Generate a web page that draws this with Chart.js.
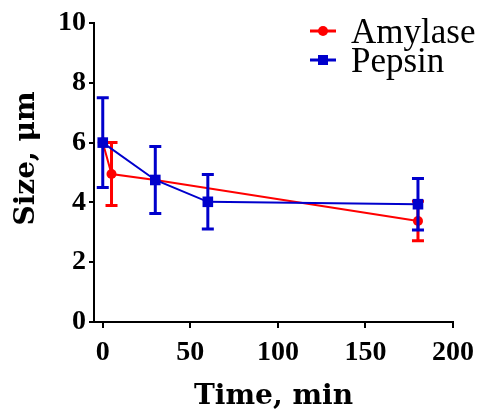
<!DOCTYPE html>
<html>
<head>
<meta charset="utf-8">
<script src="https://cdn.jsdelivr.net/npm/chart.js@4/dist/chart.umd.min.js"></script>
<style>
  html, body { margin: 0; padding: 0; background: #fff; }
  #wrap { width: 483px; height: 414px; }
</style>
</head>
<body>
<div id="wrap"><canvas id="sizeChart" width="483" height="414"></canvas></div>
<script>
// Data
const timeAmylase = [0, 5, 30, 180];
const sizeAmylase = [6.0, 4.95, 4.75, 3.38];
const errAmylase = [0, 1.05, 0, 0.66];   // bars at 0 and 30 are hidden behind pepsin

const timePepsin = [0, 30, 60, 180];
const sizePepsin = [6.0, 4.75, 4.02, 3.94];
const errPepsin = [1.5, 1.12, 0.91, 0.86];

const xTicks = [0, 50, 100, 150, 200];
const yTicks = [0, 2, 4, 6, 8, 10];

const RED = '#FF0000';
const BLUE = '#0000CC';
const SERIF = "'Liberation Serif', 'Times New Roman', serif";
const WIDE_SERIF = "'DejaVu Serif', serif";

function toPoints(xs, ys) {
    return xs.map((x, i) => ({ x: x, y: ys[i] }));
}

// Draw error bars through the chart scales, right after each dataset
const errorBars = {
    id: 'errorBars',
    afterDatasetDraw(chart, args) {
        const ds = chart.data.datasets[args.index];
        if (!ds.errors) return;
        const xScale = chart.scales.x;
        const yScale = chart.scales.y;
        const ctx = chart.ctx;
        ctx.save();
        ctx.strokeStyle = ds.borderColor;
        ctx.lineWidth = 3;
        ds.data.forEach((p, i) => {
            const e = ds.errors[i];
            if (!e) return;
            const px = xScale.getPixelForValue(p.x);
            const top = yScale.getPixelForValue(p.y + e);
            const bot = yScale.getPixelForValue(p.y - e);
            ctx.beginPath();
            ctx.moveTo(px, top);
            ctx.lineTo(px, bot);
            ctx.moveTo(px - 6, top);
            ctx.lineTo(px + 6, top);
            ctx.moveTo(px - 6, bot);
            ctx.lineTo(px + 6, bot);
            ctx.stroke();
        });
        ctx.restore();
    }
};

// Legend in the top right corner: line with marker, then label
const cornerLegend = {
    id: 'cornerLegend',
    afterDraw(chart) {
        const ctx = chart.ctx;
        const rows = [31, 60];
        ctx.save();
        chart.data.datasets.forEach((ds, i) => {
            const y = rows[i];
            ctx.strokeStyle = ds.borderColor;
            ctx.fillStyle = ds.borderColor;
            ctx.lineWidth = 3;
            ctx.beginPath();
            ctx.moveTo(310, y);
            ctx.lineTo(336, y);
            ctx.stroke();
            if (ds.pointStyle === 'rect') {
                ctx.fillRect(318, y - 5, 10, 10);
            } else {
                ctx.beginPath();
                ctx.arc(323, y, 5, 0, Math.PI * 2);
                ctx.fill();
            }
            ctx.fillStyle = '#000';
            ctx.font = '35px ' + SERIF;
            ctx.textBaseline = 'alphabetic';
            ctx.textAlign = 'left';
            ctx.fillText(ds.label, 351, y + 12);
        });
        ctx.restore();
    }
};

new Chart(document.getElementById('sizeChart'), {
    type: 'line',
    data: {
        datasets: [
            {
                label: 'Amylase',
                data: toPoints(timeAmylase, sizeAmylase),
                errors: errAmylase,
                borderColor: RED,
                backgroundColor: RED,
                borderWidth: 2,
                pointStyle: 'circle',
                pointRadius: 5,
                pointBorderWidth: 0,
                order: 2
            },
            {
                label: 'Pepsin',
                data: toPoints(timePepsin, sizePepsin),
                errors: errPepsin,
                borderColor: BLUE,
                backgroundColor: BLUE,
                borderWidth: 2,
                pointStyle: 'rect',
                pointRadius: 7.5,
                pointBorderWidth: 0,
                order: 1
            }
        ]
    },
    options: {
        responsive: false,
        animation: false,
        layout: { padding: { top: 23, right: 30, left: 0, bottom: 0 } },
        plugins: {
            legend: { display: false },
            tooltip: { enabled: false }
        },
        scales: {
            x: {
                type: 'linear',
                min: -5,
                max: 200,
                afterBuildTicks: (scale) => { scale.ticks = xTicks.map(v => ({ value: v })); },
                afterFit: (scale) => { scale.height = 92; },
                border: { display: true, color: '#000', width: 2 },
                grid: { drawOnChartArea: false, drawTicks: true, tickLength: 6, color: '#000', lineWidth: 2 },
                ticks: { color: '#000', padding: 8, font: { family: SERIF, size: 28, weight: 'bold' } },
                title: {
                    display: true,
                    text: 'Time, min',
                    color: '#000',
                    padding: { top: 0, bottom: 0 },
                    font: { family: WIDE_SERIF, size: 28, weight: 'bold' }
                }
            },
            y: {
                min: 0,
                max: 10,
                afterBuildTicks: (scale) => { scale.ticks = yTicks.map(v => ({ value: v })); },
                afterFit: (scale) => { scale.width = 94; },
                border: { display: true, color: '#000', width: 2 },
                grid: { drawOnChartArea: false, drawTicks: true, tickLength: 5, color: '#000', lineWidth: 2 },
                ticks: { color: '#000', padding: 3, font: { family: SERIF, size: 28, weight: 'bold' } },
                title: {
                    display: true,
                    // leading en spaces nudge the title up, as in the figure
                    text: '\u2002\u2002Size, μm',
                    color: '#000',
                    padding: { top: 10, bottom: 0 },
                    font: { family: WIDE_SERIF, size: 28, weight: 'bold' }
                }
            }
        }
    },
    plugins: [errorBars, cornerLegend]
});
</script>
</body>
</html>
